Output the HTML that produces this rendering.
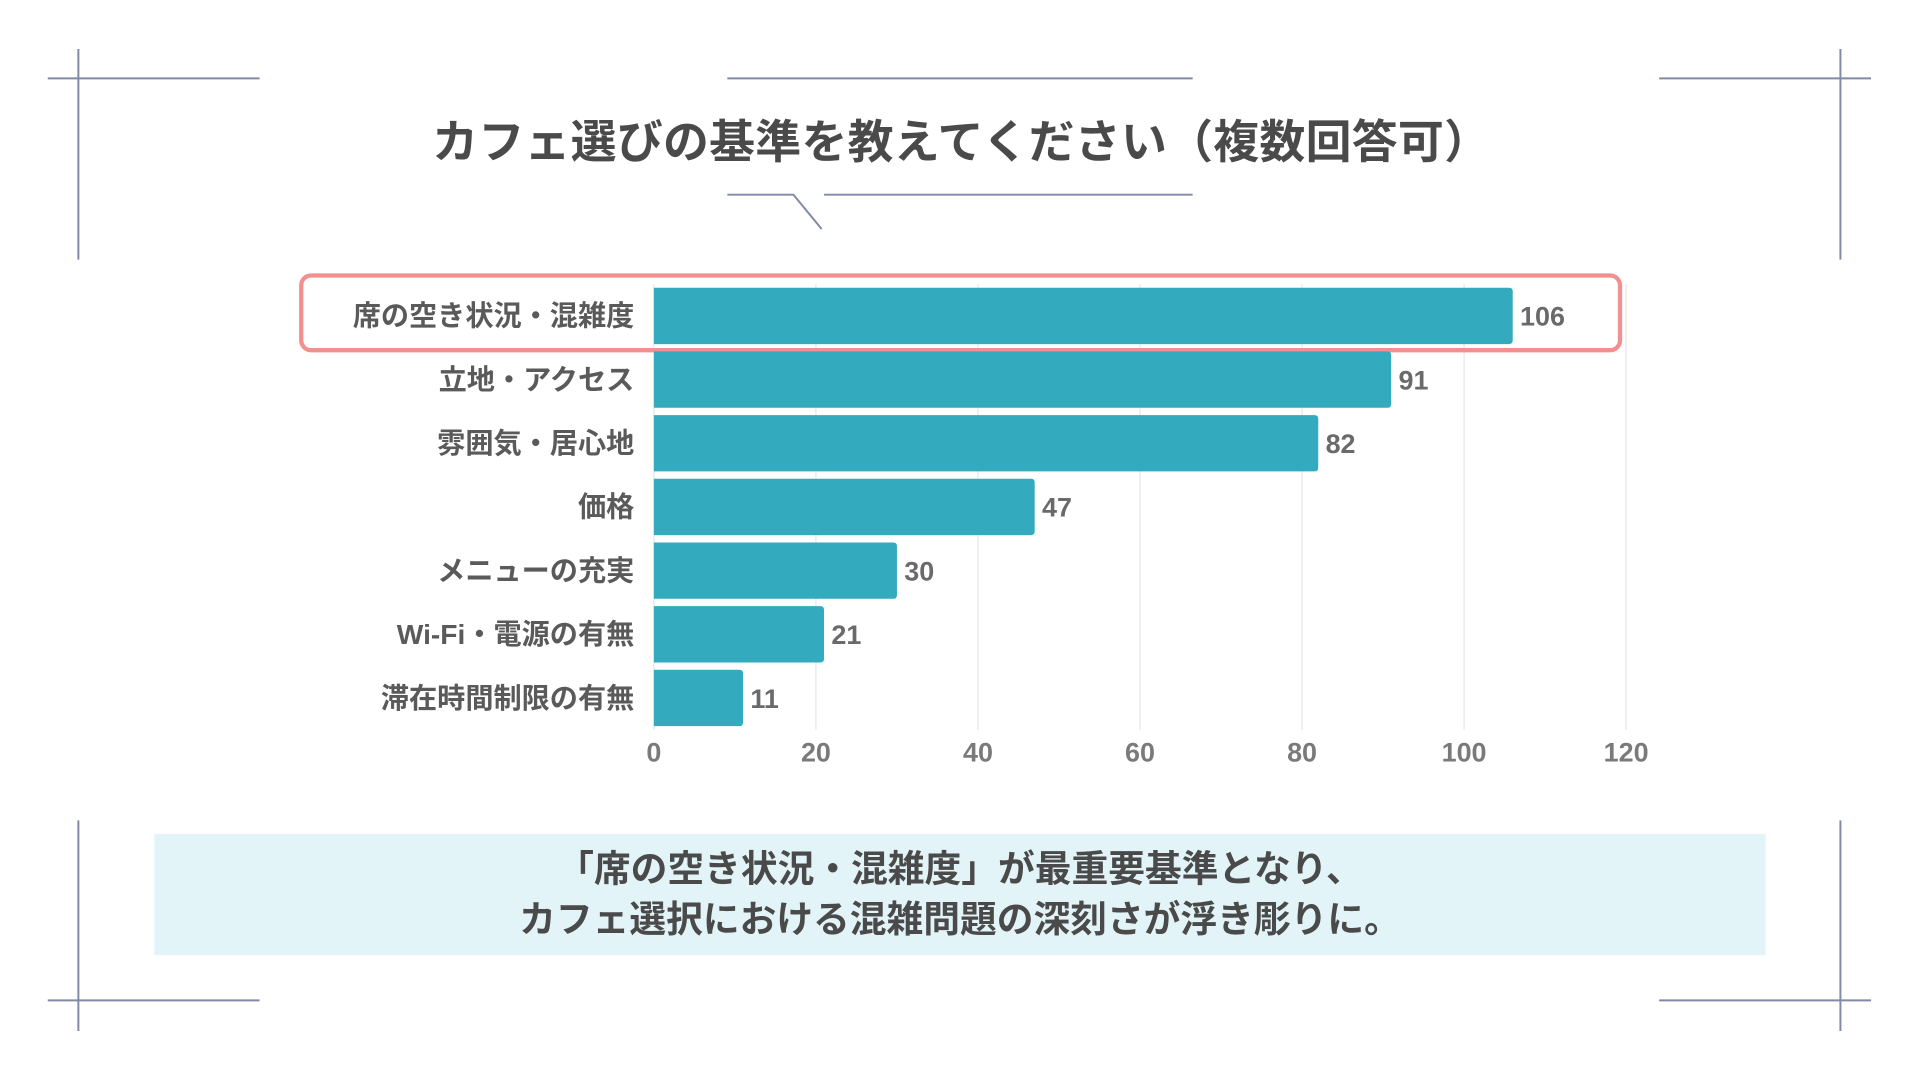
<!DOCTYPE html>
<html><head><meta charset="utf-8"><style>
html,body{margin:0;padding:0;background:#fff;width:1920px;height:1080px;overflow:hidden}
#wrap{position:absolute;left:0;top:0;width:1568px;height:882px;transform:scale(1.2244898);transform-origin:0 0;font-family:"Liberation Sans","Noto Sans CJK JP",sans-serif}
.t{position:absolute;white-space:nowrap}
</style></head><body>
<div id="wrap">
<svg width="1568" height="882" style="position:absolute;left:0;top:0">
<g stroke="#8089a8" stroke-width="1.6" fill="none">
<line x1="39" y1="64" x2="212" y2="64"/><line x1="64" y1="40" x2="64" y2="212"/>
<line x1="1355" y1="64" x2="1528" y2="64"/><line x1="1503" y1="40" x2="1503" y2="212"/>
<line x1="39" y1="817" x2="212" y2="817"/><line x1="64" y1="670" x2="64" y2="842"/>
<line x1="1355" y1="817" x2="1528" y2="817"/><line x1="1503" y1="670" x2="1503" y2="842"/>
<line x1="594" y1="64" x2="974" y2="64"/>
<polyline points="594,159 648,159 671,187"/><line x1="673" y1="159" x2="974" y2="159"/>
</g>
</svg>
<div class="t" style="left:10px;width:1550px;text-align:center;top:85px;font-size:37.5px;font-weight:bold;color:#4a4a4a;letter-spacing:0.2px">カフェ選びの基準を教えてください（複数回答可）</div>
<svg id="chart" width="1568" height="882" style="position:absolute;left:0;top:0"></svg>
<div style="position:absolute;left:126px;top:681px;width:1316px;height:99px;background:#e2f4f8"></div>
<div class="t" style="left:126px;width:1316px;text-align:center;top:690px;font-size:30px;line-height:41px;font-weight:bold;color:#4a4a4a">「席の空き状況・混雑度」が最重要基準となり、<br>カフェ選択における混雑問題の深刻さが浮き彫りに。</div>
</div>
<script>
const categories=["席の空き状況・混雑度","立地・アクセス","雰囲気・居心地","価格","メニューの充実","Wi-Fi・電源の有無","滞在時間制限の有無"];
const values=[106,91,82,47,30,21,11];
const ticks=[0,20,40,60,80,100,120];
const svg=document.getElementById('chart');
const NS='http://www.w3.org/2000/svg';
const x0=534,x1=1328,xmax=120;
const xs=v=>x0+(x1-x0)*v/xmax;
const top0=232,step=52,bh=46;
const yc=i=>top0+step*i+step/2;
function mk(t,a){const e=document.createElementNS(NS,t);for(const k in a)e.setAttribute(k,a[k]);svg.appendChild(e);return e;}
ticks.forEach(t=>{
 const g=mk('line',{x1:xs(t),x2:xs(t),y1:232,y2:596,stroke:'#e6e6e6','stroke-width':1});
 
 
 const l=mk('text',{x:xs(t),y:622,'text-anchor':'middle','font-size':22,'font-weight':'bold',fill:'#7a7a7a'});
 l.textContent=t;
 
 
});
const hl=mk('rect',{x:246,y:225,width:1077,height:61,rx:8,fill:'none',stroke:'#f28f8f','stroke-width':3.5});


values.forEach((v,i)=>{
 const y=yc(i);
 const w=xs(v)-x0;
 const b=mk('path',{d:`M${x0},${y-bh/2} h${w-3} q3,0 3,3 v${bh-6} q0,3 -3,3 h${-(w-3)} z`,fill:'#33aabd'});
 
 
 const c=mk('text',{x:518,y:y+8,'text-anchor':'end','font-size':23,'font-weight':'bold',fill:'#5a5a5a'});
 c.textContent=categories[i];
 
 
 const vl=mk('text',{x:xs(v)+6,y:y+8,'font-size':22,'font-weight':'bold',fill:'#6a6a6a'});
 vl.textContent=v;
 
 
});
</script>
</body></html>
